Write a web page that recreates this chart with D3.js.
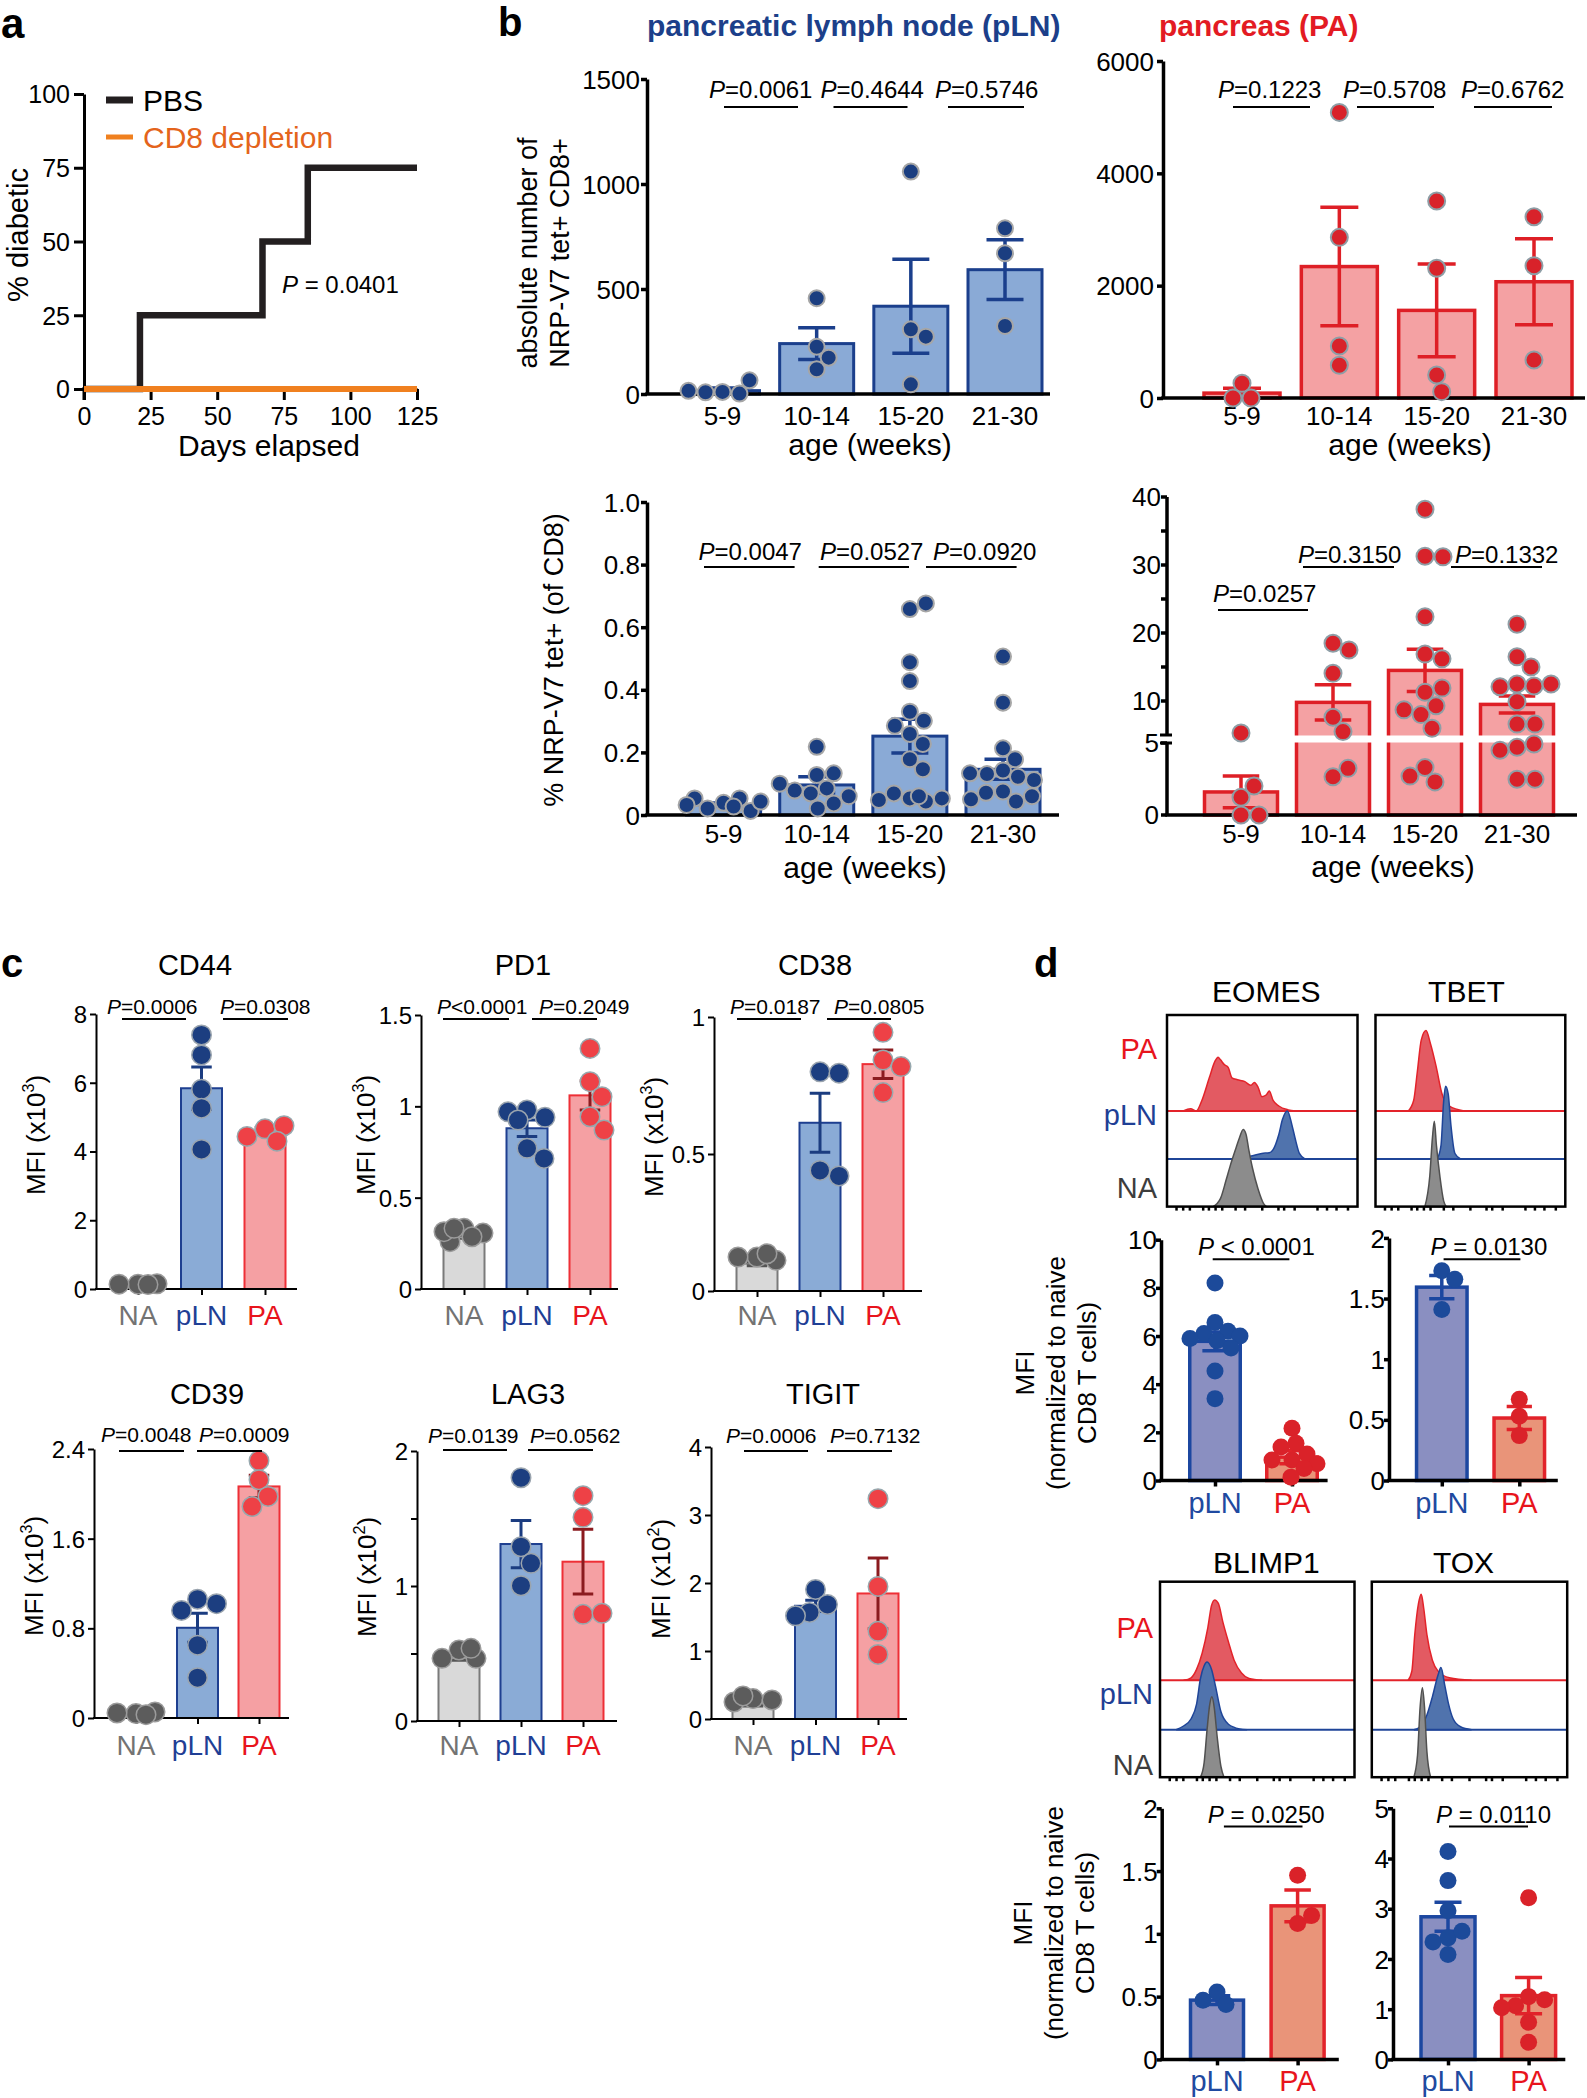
<!DOCTYPE html>
<html><head><meta charset="utf-8">
<script src="https://cdn.jsdelivr.net/npm/d3@7"></script>
<style>body{margin:0;background:#fff} svg{display:block}</style>
</head><body><svg id="fig" width="1587" height="2098"></svg>
<script>
// ================= DATA =================
// Panel a – survival
const survDays = [0, 21, 67, 84, 125];
const pbsPct = [0, 25, 50, 75, 75];
const cd8Days = [0, 125];
const cd8Pct = [0, 0];
const survXTicks = [0, 25, 50, 75, 100, 125];
const survYTicks = [0, 25, 50, 75, 100];
const survP = " = 0.0401";

// Panel b
const ageGroups = ["5-9", "10-14", "15-20", "21-30"];
const plnAbsMean = [16, 240, 418, 592];
const plnAbsSem = [12, 76, 224, 142];
const plnAbsPts = [[10, 2, 8, 65, 15], [225, 456, 118, 173], [1059, 308, 273, 46], [789, 670, 324]];
const plnAbsTicks = [0, 500, 1000, 1500];
const plnAbsP = ["=0.0061", "=0.4644", "=0.5746"];

const paAbsMean = [87, 2340, 1560, 2070];
const paAbsSem = [87, 1055, 825, 765];
const paAbsPts = [[261, 0, 0], [5085, 2860, 925, 582], [3507, 2310, 409, 113], [3228, 2356, 676]];
const paAbsTicks = [0, 2000, 4000, 6000];
const paAbsP = ["=0.1223", "=0.5708", "=0.6762"];

const plnPctMean = [0.033, 0.096, 0.252, 0.146];
const plnPctSem = [0.005, 0.026, 0.054, 0.032];
const plnPctPts = [
  [0.039, 0.053, 0.021, 0.013, 0.053, 0.043, 0.032, 0.027],
  [0.128, 0.133, 0.218, 0.085, 0.069, 0.037, 0.078, 0.021, 0.06, 0.1],
  [0.658, 0.676, 0.488, 0.428, 0.33, 0.301, 0.259, 0.285, 0.227, 0.178, 0.146, 0.053, 0.043, 0.069, 0.053, 0.048, 0.06],
  [0.506, 0.359, 0.213, 0.178, 0.142, 0.131, 0.122, 0.112, 0.075, 0.071, 0.043, 0.133, 0.06, 0.05]
];
const plnPctTicks = [0, 0.2, 0.4, 0.6, 0.8, 1.0];
const plnPctP = ["=0.0047", "=0.0527", "=0.0920"];

const paPctMean = [1.6, 9.8, 14.5, 9.5];
const paPctSem = [1.1, 2.6, 3.1, 1.25];
const paPctPts = [
  [5.3, 1.23, 2.01, 0, 0],
  [18.5, 17.5, 14.07, 7.6, 5.5, 2.66, 3.24],
  [38.2, 31.3, 31.2, 22.4, 16.9, 16.2, 11.3, 11.9, 9.3, 8.0, 8.7, 6.0, 3.3, 2.3, 2.7],
  [21.3, 16.5, 15, 12.5, 12.2, 12.1, 12.5, 9.9, 6.6, 6.6, 4.7, 4.93, 4.5, 2.48, 2.48]
];
const paPctLowTicks = [0, 5];
const paPctHighTicks = [10, 20, 30, 40];
const paPctMinor = [15, 25, 35];
const paPctP = ["=0.0257", "=0.3150", "=0.1332"];

// Panel c
const tissues = ["NA", "pLN", "PA"];
const cd44Mean = [0.11, 5.84, 4.6], cd44Sem = [0.01, 0.62, 0.1];
const cd44Pts = [[0.14, 0.15, 0.14, 0.13], [7.39, 6.81, 5.81, 5.26, 4.06], [4.66, 4.75, 4.44, 4.3]];
const cd44Ticks = [0, 2, 4, 6, 8], cd44P = ["=0.0006", "=0.0308"];
const pd1Mean = [0.29, 0.88, 1.06], pd1Sem = [0.012, 0.045, 0.08];
const pd1Pts = [[0.332, 0.306, 0.259, 0.286, 0.314, 0.332], [0.98, 0.94, 0.97, 0.925, 0.77, 0.715], [1.317, 1.135, 1.053, 0.943, 0.87]];
const pd1Ticks = [0, 0.5, 1, 1.5], pd1P = ["<0.0001", "=0.2049"];
const cd38Mean = [0.10, 0.614, 0.828], cd38Sem = [0.008, 0.108, 0.052];
const cd38Pts = [[0.124, 0.112, 0.124, 0.136], [0.80, 0.795, 0.44, 0.42], [0.944, 0.843, 0.819, 0.724]];
const cd38Ticks = [0, 0.5, 1], cd38P = ["=0.0187", "=0.0805"];
const cd39Mean = [0.03, 0.805, 2.066], cd39Sem = [0.005, 0.13, 0.1];
const cd39Pts = [[0.04, 0.054, 0.045, 0.03], [1.06, 1.02, 0.96, 0.65, 0.36], [2.296, 2.126, 1.977, 1.887]];
const cd39Ticks = [0, 0.8, 1.6, 2.4], cd39P = ["=0.0048", "=0.0009"];
const lag3Mean = [0.47, 1.311, 1.18], lag3Sem = [0.02, 0.175, 0.24];
const lag3Pts = [[0.526, 0.464, 0.464, 0.538], [1.802, 1.291, 1.168, 1.002], [1.669, 1.509, 0.79, 0.798]];
const lag3Ticks = [0, 1, 2], lag3Minor = [0.5, 1.5], lag3P = ["=0.0139", "=0.0562"];
const tigitMean = [0.21, 1.665, 1.846], tigitSem = [0.02, 0.083, 0.52];
const tigitPts = [[0.30, 0.28, 0.25, 0.34], [1.905, 1.684, 1.567, 1.518], [3.24, 1.95, 1.29, 0.95]];
const tigitTicks = [0, 1, 2, 3, 4], tigitP = ["=0.0006", "=0.7132"];

// Panel d – bars
const dGroups = ["pLN", "PA"];
const eomesMean = [5.78, 0.97], eomesSem = [0.39, 0.27];
const eomesPts = [[8.2, 6.56, 6.2, 6.1, 5.9, 6.0, 5.8, 5.5, 4.55, 3.4], [2.17, 1.55, 1.39, 1.1, 0.85, 0.85, 0.7, 0.5, 0.14]];
const eomesTicks = [0, 2, 4, 6, 8, 10], eomesP = " < 0.0001";
const tbetMean = [1.594, 0.515], tbetSem = [0.096, 0.095];
const tbetPts = [[1.73, 1.66, 1.41], [0.67, 0.53, 0.37]];
const tbetTicks = [0, 0.5, 1, 1.5, 2], tbetP = " = 0.0130";
const blimp1Mean = [0.472, 1.223], blimp1Sem = [0.035, 0.127];
const blimp1Pts = [[0.536, 0.437, 0.472], [1.467, 1.083, 1.147]];
const blimp1Ticks = [0, 0.5, 1, 1.5, 2], blimp1P = " = 0.0250";
const toxMean = [2.84, 1.27], toxSem = [0.29, 0.36];
const toxPts = [[4.14, 3.56, 2.96, 2.42, 2.55, 2.34, 2.09], [3.22, 1.25, 1.19, 1.07, 1.03, 0.74, 0.34]];
const toxTicks = [0, 1, 2, 3, 4, 5], toxP = " = 0.0110";

// Panel d – histograms ([position fraction, height fraction])
const eomesPA = [[0.085,0],[0.124,0.012],[0.154,0],[0.183,0.055],[0.222,0.173],[0.252,0.26],[0.268,0.281],[0.281,0.267],[0.301,0.242],[0.321,0.228],[0.341,0.173],[0.37,0.163],[0.409,0.153],[0.439,0.134],[0.459,0.149],[0.478,0.124],[0.498,0.075],[0.522,0.085],[0.537,0.104],[0.557,0.055],[0.587,0.026],[0.636,0.006],[0.675,0]];
const eomesPLN = [[0.38,0],[0.42,0.01],[0.459,0.02],[0.498,0.029],[0.537,0.033],[0.557,0.049],[0.587,0.128],[0.606,0.206],[0.632,0.251],[0.656,0.177],[0.675,0.098],[0.695,0.029],[0.724,0]];
const eomesNA = [[0.242,0],[0.281,0.043],[0.311,0.141],[0.331,0.21],[0.36,0.299],[0.38,0.358],[0.4,0.403],[0.415,0.377],[0.429,0.299],[0.449,0.2],[0.478,0.092],[0.508,0.014],[0.522,0]];
const tbetPA = [[0.172,0],[0.201,0.055],[0.221,0.21],[0.241,0.37],[0.266,0.42],[0.29,0.35],[0.32,0.23],[0.349,0.094],[0.389,0.025],[0.467,0]];
const tbetPLN = [[0.325,0],[0.345,0.07],[0.359,0.3],[0.369,0.38],[0.383,0.34],[0.398,0.17],[0.418,0.03],[0.448,0]];
const tbetNA = [[0.26,0],[0.286,0.16],[0.3,0.36],[0.31,0.445],[0.321,0.32],[0.339,0.16],[0.359,0.03],[0.373,0]];
const blimp1PA = [[0.121,0],[0.16,0.013],[0.188,0.056],[0.217,0.14],[0.246,0.27],[0.265,0.383],[0.281,0.411],[0.3,0.393],[0.323,0.299],[0.352,0.196],[0.381,0.103],[0.419,0.037],[0.458,0.009],[0.525,0]];
const blimp1PLN = [[0.083,0],[0.121,0.019],[0.16,0.056],[0.188,0.131],[0.208,0.262],[0.227,0.327],[0.242,0.346],[0.265,0.308],[0.285,0.224],[0.313,0.093],[0.352,0.028],[0.41,0.004],[0.448,0]];
const blimp1NA = [[0.208,0],[0.227,0.075],[0.242,0.243],[0.256,0.374],[0.267,0.411],[0.279,0.355],[0.294,0.206],[0.313,0.056],[0.329,0]];
const toxPA = [[0.186,0],[0.205,0.047],[0.22,0.234],[0.239,0.393],[0.253,0.44],[0.266,0.366],[0.282,0.234],[0.31,0.103],[0.339,0.047],[0.397,0.013],[0.511,0]];
const toxPLN = [[0.215,0],[0.253,0.019],[0.282,0.075],[0.31,0.168],[0.339,0.28],[0.354,0.318],[0.374,0.224],[0.393,0.131],[0.416,0.056],[0.454,0.015],[0.511,0]];
const toxNA = [[0.215,0],[0.234,0.112],[0.247,0.355],[0.259,0.458],[0.27,0.355],[0.282,0.131],[0.301,0]];
const histTicks = [0.05, 0.085, 0.12, 0.19, 0.22, 0.255, 0.29, 0.36, 0.41, 0.5, 0.585, 0.615, 0.67, 0.79, 0.84, 0.89, 0.95];

// ================= DRAWING =================
const F = '"Liberation Sans", Arial, Helvetica, sans-serif';
const svg = d3.select("#fig").attr("font-family", F);
svg.append("rect").attr("width", 1587).attr("height", 2098).attr("fill", "#fff");

function T(g, x, y, s, o = {}) {
  const t = g.append("text").attr("x", x).attr("y", y).text(s)
    .attr("font-size", o.size || 24).attr("fill", o.fill || "#000")
    .attr("text-anchor", o.anchor || "start");
  if (o.weight) t.attr("font-weight", o.weight);
  return t;
}
function TR(g, x, y, s, size, fill) {
  return g.append("text").attr("transform", `translate(${x},${y}) rotate(-90)`)
    .attr("text-anchor", "middle").attr("font-size", size).attr("fill", fill || "#000").text(s);
}
function PT(g, x, y, rest, size) {
  const t = g.append("text").attr("x", x).attr("y", y).attr("font-size", size).attr("fill", "#000");
  t.append("tspan").attr("font-style", "italic").text("P");
  t.append("tspan").text(rest);
  return t;
}
function L(g, x1, y1, x2, y2, w, c) {
  return g.append("line").attr("x1", x1).attr("y1", y1).attr("x2", x2).attr("y2", y2)
    .attr("stroke", c || "#000").attr("stroke-width", w);
}
function mfiLabel(g, x, y, exp, size) {
  const t = g.append("text").attr("transform", `translate(${x},${y}) rotate(-90)`)
    .attr("text-anchor", "middle").attr("font-size", size).attr("fill", "#000");
  t.append("tspan").text("MFI (x10");
  t.append("tspan").attr("font-size", size * 0.62).attr("dy", -size * 0.42).text(exp);
  t.append("tspan").attr("dy", size * 0.42).text(")");
}
function swarm(vals, y, r, maxOff) {
  const placed = [], minDist = 2 * r * 0.9;
  return vals.map(v => {
    const yy = y(v);
    let chosen = null, bestOff = 0, bestD = -1;
    for (let k = 0; k <= 2 * Math.floor(maxOff); k++) {
      const off = (k % 2 ? 1 : -1) * Math.ceil(k / 2);
      let d = Infinity;
      for (const p of placed) d = Math.min(d, Math.hypot(p.x - off, p.y - yy));
      if (d >= minDist) { chosen = off; break; }
      if (d > bestD) { bestD = d; bestOff = off; }
    }
    const off = chosen === null ? bestOff : chosen;
    placed.push({ x: off, y: yy });
    return { dx: off, y: yy };
  });
}
function leftAxis(g, ax, y, ticks, fmt, o) {
  const a = g.append("g").attr("transform", `translate(${ax},0)`)
    .call(d3.axisLeft(y).tickValues(ticks).tickFormat(fmt).tickSize(o.tl).tickSizeOuter(0).tickPadding(o.tp));
  a.attr("font-family", null).attr("font-size", null);
  a.select(".domain").attr("stroke", "#000").attr("stroke-width", o.aw);
  a.selectAll(".tick line").attr("stroke", "#000").attr("stroke-width", o.aw);
  a.selectAll(".tick text").attr("font-size", o.ts).attr("fill", "#000").attr("dy", "0.35em");
  if (o.minor) {
    const m = g.append("g").attr("transform", `translate(${ax},0)`)
      .call(d3.axisLeft(y).tickValues(o.minor).tickFormat("").tickSize(o.tl).tickSizeOuter(0));
    m.select(".domain").remove();
    m.selectAll("line").attr("stroke", "#000").attr("stroke-width", o.aw);
  }
  return a;
}
function barDot(o) {
  const g = svg.append("g");
  const x = d3.scalePoint().domain(o.cats).range(o.cx);
  const y = o.y, y0 = o.y0;
  o.cats.forEach((c, i) => {
    const st = o.st[i], cx = x(c), top = y(o.mean[i]);
    g.append("rect").attr("x", cx - o.bw / 2).attr("y", top).attr("width", o.bw)
      .attr("height", Math.max(0.5, y0 - top)).attr("fill", st.fill)
      .attr("stroke", st.stroke).attr("stroke-width", o.bsw);
  });
  if (o.gap) o.gap(g);
  o.cats.forEach((c, i) => {
    const st = o.st[i], cx = x(c), m = o.mean[i], s = o.sem[i];
    const yt = y(m + s), yb = y(Math.max(0, m - s)), cw = o.bw / 4;
    g.append("path").attr("d", `M${cx},${yb}V${yt}M${cx - cw},${yt}H${cx + cw}M${cx - cw},${yb}H${cx + cw}`)
      .attr("fill", "none").attr("stroke", st.err).attr("stroke-width", o.esw);
  });
  if (o.yAxis) o.yAxis(g);
  else leftAxis(g, o.ax, y, o.ticks, o.fmt, o);
  L(g, o.ax - o.aw / 2, y0, o.xEnd, y0, o.aw);
  if (o.xt) {
    const a = g.append("g").attr("transform", `translate(0,${y0})`)
      .call(d3.axisBottom(x).tickSize(o.xt).tickSizeOuter(0).tickFormat(""));
    a.select(".domain").remove();
    a.selectAll("line").attr("stroke", "#000").attr("stroke-width", o.aw);
  }
  o.cats.forEach((c, i) => T(g, x(c), o.lblY, c, { size: o.ls, anchor: "middle", fill: o.st[i].lbl || "#000" }));
  o.cats.forEach((c, i) => {
    const st = o.st[i], cx = x(c);
    swarm(o.pts[i], y, o.r, o.bw / 2).forEach(p =>
      g.append("circle").attr("cx", cx + p.dx).attr("cy", p.y).attr("r", o.r - (o.dsw || 0) / 2)
        .attr("fill", st.dot).attr("stroke", st.dotStroke || "none").attr("stroke-width", o.dsw || 0));
  });
  (o.p || []).forEach(pp => {
    PT(g, pp.tx, pp.y || o.pY, pp.s, o.ps);
    L(g, pp.x1, pp.ly || o.pL, pp.x2, pp.ly || o.pL, o.plw);
  });
  return g;
}

// ---------- Panel letters ----------
const letters = svg.append("g");
T(letters, 1, 38, "a", { size: 42, weight: "bold" });
T(letters, 498, 36, "b", { size: 40, weight: "bold" });
T(letters, 1, 977, "c", { size: 40, weight: "bold" });
T(letters, 1034, 977, "d", { size: 40, weight: "bold" });

// ---------- Panel a ----------
{
  const g = svg.append("g");
  const x = d3.scaleLinear().domain([0, 125]).range([84, 417]);
  const y = d3.scaleLinear().domain([0, 100]).range([389, 94]);
  leftAxis(g, 84, y, survYTicks, d => d, { tl: 10, tp: 4, aw: 3, ts: 25 });
  L(g, 84, 387, 84, 400, 3);
  const xa = g.append("g").attr("transform", "translate(0,389)")
    .call(d3.axisBottom(x).tickValues(survXTicks).tickSize(11).tickSizeOuter(0));
  xa.attr("font-family", null).attr("font-size", null);
  xa.select(".domain").attr("stroke", "#000").attr("stroke-width", 3);
  xa.selectAll(".tick line").attr("stroke", "#000").attr("stroke-width", 3);
  xa.selectAll(".tick text").attr("font-size", 25).attr("fill", "#000").attr("y", 36).attr("dy", 0);
  const line = d3.line().x(d => x(d[0])).y(d => y(d[1])).curve(d3.curveStepAfter);
  g.append("path").attr("d", line(d3.zip(survDays, pbsPct))).attr("fill", "none")
    .attr("stroke", "#231f20").attr("stroke-width", 6.5);
  g.append("path").attr("d", line(d3.zip(cd8Days, cd8Pct))).attr("fill", "none")
    .attr("stroke", "#f0801f").attr("stroke-width", 6);
  L(g, 106, 100, 133, 100, 7, "#231f20");
  T(g, 143, 111, "PBS", { size: 30 });
  L(g, 106, 137, 133, 137, 5, "#f0801f");
  T(g, 143, 148, "CD8 depletion", { size: 30, fill: "#e4641c" });
  PT(g, 282, 293, survP, 24);
  T(g, 269, 456, "Days elapsed", { size: 30, anchor: "middle" });
  TR(g, 28, 235, "% diabetic", 29);
}

// ---------- Panel b ----------
const bBlue = { fill: "#8aaad6", stroke: "#1b3f8c", err: "#1b3f8c", dot: "#1b3e80", dotStroke: "#a6a6a6" };
const bRed = { fill: "#f4a1a3", stroke: "#de1f26", err: "#de1f26", dot: "#d8222a", dotStroke: "#8e9ea6" };
{
  const g = svg.append("g");
  T(g, 647, 36, "pancreatic lymph node (pLN)", { size: 30, weight: "bold", fill: "#1c3f8a" });
  T(g, 1159, 36, "pancreas (PA)", { size: 30, weight: "bold", fill: "#e31b23" });
  T(g, 870, 455, "age (weeks)", { size: 30, anchor: "middle" });
  T(g, 1410, 455, "age (weeks)", { size: 30, anchor: "middle" });
  T(g, 865, 878, "age (weeks)", { size: 30, anchor: "middle" });
  T(g, 1393, 877, "age (weeks)", { size: 30, anchor: "middle" });
  TR(g, 537, 253, "absolute number of", 27);
  TR(g, 569, 253, "NRP-V7 tet+ CD8+", 27);
  TR(g, 563, 660, "% NRP-V7 tet+ (of CD8)", 27);
}
barDot({
  cats: ageGroups, cx: [722.5, 1005], y: d3.scaleLinear().domain([0, 1500]).range([394, 79]), y0: 394,
  mean: plnAbsMean, sem: plnAbsSem, pts: plnAbsPts, st: ageGroups.map(() => bBlue),
  bw: 74, bsw: 3, esw: 3.5, ticks: plnAbsTicks, fmt: d => d, tl: 6, tp: 1, aw: 3.5, ts: 26,
  ax: 647, xEnd: 1050, lblY: 425, ls: 26, r: 9, dsw: 2,
  p: [{ tx: 709, x1: 724, x2: 798 }, { tx: 820.5, x1: 833.5, x2: 907.5 }, { tx: 935, x1: 948, x2: 1024 }].map((d, i) => ({ ...d, s: plnAbsP[i] })),
  pY: 98, pL: 107, ps: 24, plw: 2
});
barDot({
  cats: ageGroups, cx: [1242, 1534], y: d3.scaleLinear().domain([0, 6000]).range([398, 61]), y0: 398,
  mean: paAbsMean, sem: paAbsSem, pts: paAbsPts, st: ageGroups.map(() => bRed),
  bw: 76, bsw: 3.5, esw: 3.5, ticks: paAbsTicks, fmt: d => d, tl: 6, tp: 3, aw: 3.5, ts: 26,
  ax: 1163, xEnd: 1585, lblY: 425, ls: 26, r: 9.5, dsw: 2,
  p: [{ tx: 1218, x1: 1233, x2: 1310 }, { tx: 1343, x1: 1357, x2: 1434 }, { tx: 1461, x1: 1474, x2: 1552 }].map((d, i) => ({ ...d, s: paAbsP[i] })),
  pY: 98, pL: 107, ps: 24, plw: 2
});
barDot({
  cats: ageGroups, cx: [723.6, 1003], y: d3.scaleLinear().domain([0, 1]).range([815, 502]), y0: 815,
  mean: plnPctMean, sem: plnPctSem, pts: plnPctPts, st: ageGroups.map(() => bBlue),
  bw: 74, bsw: 3, esw: 3.5, ticks: plnPctTicks, fmt: d => d === 0 ? "0" : d.toFixed(1), tl: 6, tp: 1, aw: 3.5, ts: 26,
  ax: 647, xEnd: 1059, lblY: 843, ls: 26, r: 9, dsw: 2,
  p: [{ tx: 698.5, x1: 704, x2: 794.6 }, { tx: 820, x1: 818.7, x2: 909 }, { tx: 933, x1: 926, x2: 1016.6 }].map((d, i) => ({ ...d, s: plnPctP[i] })),
  pY: 560, pL: 567, ps: 24, plw: 2
});
{
  const yLow = d3.scaleLinear().domain([0, 5]).range([815, 743]);
  const yHigh = d3.scaleLinear().domain([5, 40]).range([735, 497]);
  const yB = v => v <= 5 ? yLow(v) : yHigh(v);
  const AX = 1167;
  barDot({
    cats: ageGroups, cx: [1241, 1517], y: yB, y0: 815,
    mean: paPctMean, sem: paPctSem, pts: paPctPts, st: ageGroups.map(() => bRed),
    bw: 73, bsw: 3.5, esw: 3.5, aw: 3.5, ax: AX, xEnd: 1577, lblY: 843, ls: 26, r: 9.5, dsw: 2,
    gap: g => g.append("rect").attr("x", AX + 2).attr("y", 735.5).attr("width", 1577 - AX).attr("height", 7).attr("fill", "#fff"),
    yAxis: g => {
      L(g, AX, 497, AX, 735, 3.5);
      L(g, AX, 743, AX, 815, 3.5);
      L(g, AX - 7, 735, AX + 5, 735, 3);
      L(g, AX - 7, 743, AX + 5, 743, 3);
      paPctLowTicks.forEach(v => { L(g, AX - 6, yLow(v), AX, yLow(v), 3.5); T(g, AX - 8, yLow(v), v, { size: 26, anchor: "end" }).attr("dy", "0.35em"); });
      paPctHighTicks.forEach(v => { L(g, AX - 6, yHigh(v), AX, yHigh(v), 3.5); T(g, AX - 6, yHigh(v), v, { size: 26, anchor: "end" }).attr("dy", "0.35em"); });
      paPctMinor.forEach(v => L(g, AX - 6, yHigh(v), AX, yHigh(v), 3.5));
    },
    p: [{ tx: 1213, x1: 1218, x2: 1308, y: 602, ly: 610 }, { tx: 1298, x1: 1303, x2: 1394, y: 563, ly: 567 }, { tx: 1455, x1: 1451, x2: 1542, y: 563, ly: 567 }].map((d, i) => ({ ...d, s: paPctP[i] })),
    ps: 24, plw: 2
  });
}

// ---------- Panel c ----------
const cNA = { fill: "#d9d9d9", stroke: "#7a7a7a", err: "#555", dot: "#5c5c5c", dotStroke: "#9b9b9b", lbl: "#737373" };
const cPLN = { fill: "#8aabd6", stroke: "#1e3f90", err: "#1b3c80", dot: "#1c3e80", dotStroke: "#9aa4ae", lbl: "#1f3f95" };
const cPA = { fill: "#f5a0a3", stroke: "#ee2f36", err: "#8b1b1f", dot: "#ee4146", dotStroke: "#97a8ae", lbl: "#e8141c" };
function cPanel(name, mean, sem, pts, ticks, minor, pv, exp, lay) {
  const g = svg.append("g");
  T(g, lay.titleX, lay.titleY, name, { size: 29, anchor: "middle" });
  mfiLabel(g, lay.ylabX, lay.ylabY, exp, 26);
  barDot({
    cats: tissues, cx: lay.cx, y: d3.scaleLinear().domain([0, ticks[ticks.length - 1]]).range([lay.y0, lay.yTop]), y0: lay.y0,
    mean, sem, pts, st: [cNA, cPLN, cPA], bw: 41, bsw: 2, esw: 3, ticks, minor, fmt: d => String(d), tl: 6, tp: 3, aw: 2, ts: 24,
    ax: lay.ax, xEnd: lay.xEnd, xt: 6, lblY: lay.lblY, ls: 28, r: 10.5, dsw: 1.5,
    p: lay.p.map((d, i) => ({ ...d, s: pv[i] })), pY: lay.pY, pL: lay.pL, ps: 21, plw: 2
  });
}
cPanel("CD44", cd44Mean, cd44Sem, cd44Pts, cd44Ticks, null, cd44P, "3",
  { ax: 96, xEnd: 297, yTop: 1014, y0: 1289, cx: [138, 265], titleX: 195, titleY: 975, ylabX: 45, ylabY: 1135, lblY: 1325, pY: 1014, pL: 1019,
    p: [{ tx: 107, x1: 122, x2: 186 }, { tx: 220, x1: 223, x2: 288 }] });
cPanel("PD1", pd1Mean, pd1Sem, pd1Pts, pd1Ticks, null, pd1P, "3",
  { ax: 421, xEnd: 618, yTop: 1015, y0: 1289, cx: [464, 590], titleX: 523, titleY: 975, ylabX: 375, ylabY: 1135, lblY: 1325, pY: 1014, pL: 1019,
    p: [{ tx: 437, x1: 443, x2: 509 }, { tx: 539, x1: 532, x2: 597 }] });
cPanel("CD38", cd38Mean, cd38Sem, cd38Pts, cd38Ticks, null, cd38P, "3",
  { ax: 714, xEnd: 922, yTop: 1017, y0: 1291, cx: [757, 883], titleX: 815, titleY: 975, ylabX: 663, ylabY: 1137, lblY: 1325, pY: 1014, pL: 1019,
    p: [{ tx: 730, x1: 737, x2: 801 }, { tx: 834, x1: 827, x2: 891 }] });
cPanel("CD39", cd39Mean, cd39Sem, cd39Pts, cd39Ticks, null, cd39P, "3",
  { ax: 94, xEnd: 289, yTop: 1449, y0: 1718, cx: [136, 259], titleX: 207, titleY: 1404, ylabX: 43, ylabY: 1576, lblY: 1755, pY: 1442, pL: 1451,
    p: [{ tx: 101, x1: 119, x2: 184 }, { tx: 199, x1: 197, x2: 262 }] });
cPanel("LAG3", lag3Mean, lag3Sem, lag3Pts, lag3Ticks, lag3Minor, lag3P, "2",
  { ax: 417, xEnd: 617, yTop: 1451, y0: 1721, cx: [459, 583], titleX: 528, titleY: 1404, ylabX: 376, ylabY: 1577, lblY: 1755, pY: 1443, pL: 1450,
    p: [{ tx: 428, x1: 443, x2: 507 }, { tx: 530, x1: 528, x2: 593 }] });
cPanel("TIGIT", tigitMean, tigitSem, tigitPts, tigitTicks, null, tigitP, "2",
  { ax: 711, xEnd: 907, yTop: 1447, y0: 1719, cx: [753, 878], titleX: 823, titleY: 1404, ylabX: 670, ylabY: 1579, lblY: 1755, pY: 1443, pL: 1451,
    p: [{ tx: 726, x1: 744, x2: 808 }, { tx: 830, x1: 827, x2: 892 }] });

// ---------- Panel d ----------
const hPA = { fill: "#e35a62", stroke: "#e3232a" };
const hPLN = { fill: "#5073ad", stroke: "#1f4598" };
const hNA = { fill: "#8c8c8c", stroke: "#505050" };
function histPanel(o) {
  const g = svg.append("g");
  const x = d3.scaleLinear().domain([0, 1]).range([o.x0, o.x1]);
  const H = o.y1 - o.y0;
  o.lanes.forEach(l => {
    const area = d3.area().x(d => x(d[0])).y0(l.base).y1(d => l.base - d[1] * H).curve(d3.curveMonotoneX);
    g.append("path").attr("d", area(l.data)).attr("fill", l.c.fill).attr("stroke", l.c.stroke).attr("stroke-width", 1.5);
    if (l.line) L(g, o.x0, l.base, o.x1, l.base, 2, l.c.stroke);
  });
  g.append("rect").attr("x", o.x0).attr("y", o.y0).attr("width", o.x1 - o.x0).attr("height", H)
    .attr("fill", "none").attr("stroke", "#000").attr("stroke-width", 2.5);
  histTicks.forEach(t => L(g, x(t), o.y1, x(t), o.y1 + 4, 2.5));
  T(g, (o.x0 + o.x1) / 2 + o.tdx, o.titleY, o.title, { size: 30, anchor: "middle" });
}
function histLabels(xr, ys) {
  const g = svg.append("g");
  T(g, xr, ys[0], "PA", { size: 29, anchor: "end", fill: "#e8141c" });
  T(g, xr, ys[1], "pLN", { size: 29, anchor: "end", fill: "#1f3f95" });
  T(g, xr, ys[2], "NA", { size: 29, anchor: "end", fill: "#3d3d3d" });
}
histPanel({ x0: 1167, x1: 1357.5, y0: 1015, y1: 1206.6, title: "EOMES", titleY: 1002, tdx: 4,
  lanes: [{ data: eomesPA, base: 1111, c: hPA, line: true }, { data: eomesPLN, base: 1159, c: hPLN, line: true }, { data: eomesNA, base: 1206.6, c: hNA }] });
histPanel({ x0: 1375.5, x1: 1565.3, y0: 1015, y1: 1206.6, title: "TBET", titleY: 1002, tdx: -4,
  lanes: [{ data: tbetPA, base: 1111, c: hPA, line: true }, { data: tbetPLN, base: 1159, c: hPLN, line: true }, { data: tbetNA, base: 1206.6, c: hNA }] });
histLabels(1157, [1059, 1125, 1198]);
histPanel({ x0: 1160, x1: 1354.5, y0: 1581.7, y1: 1777.2, title: "BLIMP1", titleY: 1573, tdx: 9,
  lanes: [{ data: blimp1PA, base: 1680.3, c: hPA, line: true }, { data: blimp1PLN, base: 1729.7, c: hPLN, line: true }, { data: blimp1NA, base: 1777.2, c: hNA }] });
histPanel({ x0: 1371.8, x1: 1567.2, y0: 1581.7, y1: 1777.2, title: "TOX", titleY: 1573, tdx: -6,
  lanes: [{ data: toxPA, base: 1680.3, c: hPA, line: true }, { data: toxPLN, base: 1729.7, c: hPLN, line: true }, { data: toxNA, base: 1777.2, c: hNA }] });
histLabels(1153, [1638, 1704, 1775]);

const dPLN = { fill: "#8a8fc1", stroke: "#1c47a0", err: "#1c47a0", dot: "#1c4a9a", lbl: "#1f4aa0" };
const dPA = { fill: "#e99479", stroke: "#e2232a", err: "#e2232a", dot: "#da2229", lbl: "#e8141c" };
function dBars(mean, sem, pts, ticks, pv, lay) {
  barDot({
    cats: dGroups, cx: lay.cx, y: d3.scaleLinear().domain([0, ticks[ticks.length - 1]]).range([lay.y0, lay.yTop]), y0: lay.y0,
    mean, sem, pts, st: [dPLN, dPA], bw: lay.bw, bsw: 3.5, esw: 3.5, ticks, fmt: d => String(d), tl: 5, tp: -1, aw: 3.5, ts: 26,
    ax: lay.ax, xEnd: lay.xEnd, xt: 6, lblY: lay.lblY, ls: 29, r: 8.5, dsw: 0,
    p: [{ ...lay.p, s: pv }], pY: lay.pY, pL: lay.pL, ps: 24, plw: 2
  });
}
dBars(eomesMean, eomesSem, eomesPts, eomesTicks, eomesP,
  { ax: 1161, xEnd: 1327.6, yTop: 1239.7, y0: 1480.5, cx: [1215, 1292], bw: 50.5, lblY: 1512.5, pY: 1255, pL: 1259.3, p: { tx: 1198, x1: 1212.7, x2: 1289.4 } });
dBars(tbetMean, tbetSem, tbetPts, tbetTicks, tbetP,
  { ax: 1389, xEnd: 1557.8, yTop: 1237.9, y0: 1480.5, cx: [1441.8, 1519.3], bw: 50.5, lblY: 1512.5, pY: 1255, pL: 1259.3, p: { tx: 1430.5, x1: 1443.6, x2: 1520.4 } });
dBars(blimp1Mean, blimp1Sem, blimp1Pts, blimp1Ticks, blimp1P,
  { ax: 1161.7, xEnd: 1338.8, yTop: 1808.3, y0: 2059.4, cx: [1217, 1297.6], bw: 53, lblY: 2091, pY: 1823, pL: 1826.5, p: { tx: 1207.8, x1: 1223.9, x2: 1302.5 } });
dBars(toxMean, toxSem, toxPts, toxTicks, toxP,
  { ax: 1393, xEnd: 1565.3, yTop: 1808.3, y0: 2059.4, cx: [1448, 1528.6], bw: 54, lblY: 2091, pY: 1823, pL: 1826.5, p: { tx: 1436, x1: 1449, x2: 1528 } });
{
  const g = svg.append("g");
  TR(g, 1034, 1373, "MFI", 26);
  TR(g, 1065, 1373, "(normalized to naive", 26);
  TR(g, 1096, 1373, "CD8 T cells)", 26);
  TR(g, 1032, 1923, "MFI", 26);
  TR(g, 1063, 1923, "(normalized to naive", 26);
  TR(g, 1094, 1923, "CD8 T cells)", 26);
}
</script>
</body></html>
